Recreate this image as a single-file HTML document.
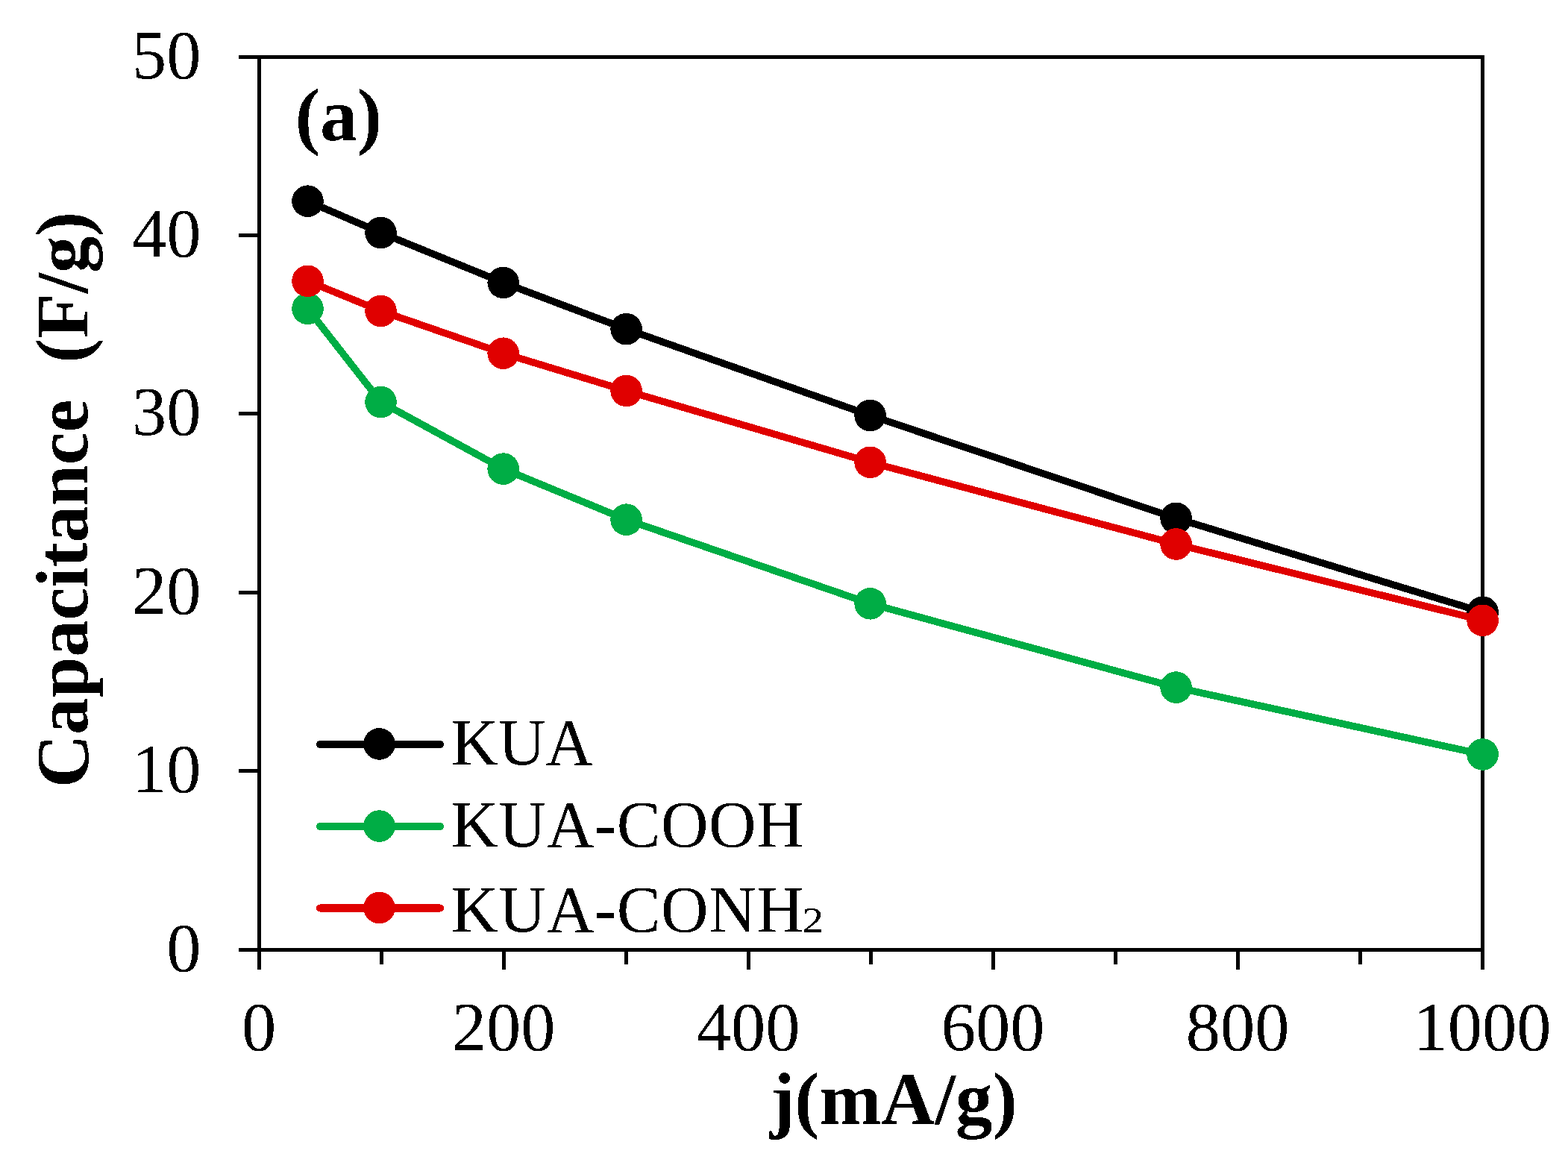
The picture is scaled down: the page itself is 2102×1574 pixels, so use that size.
<!DOCTYPE html>
<html><head><meta charset="utf-8"><title>Capacitance vs current density</title>
<style>
html,body{margin:0;padding:0;background:#fff;}
body{width:2102px;height:1574px;overflow:hidden;}
svg{display:block;}
text{font-kerning:none;}
</style></head>
<body>
<svg width="2102" height="1574" viewBox="0 0 2102 1574">
<defs><filter id="bin" x="-0.05" y="-0.05" width="1.1" height="1.1" color-interpolation-filters="sRGB"><feComponentTransfer><feFuncA type="discrete" tableValues="0 1"/></feComponentTransfer></filter></defs>
<rect width="2102" height="1574" fill="#fff"/>
<g fill="#000">
<rect x="345" y="74" width="5" height="1226"/>
<rect x="1985" y="74" width="5" height="1202"/>
<rect x="320" y="74" width="1670" height="5"/>
<rect x="320" y="1271" width="1670" height="5"/>
<rect x="320" y="1271.0" width="27" height="5"/>
<rect x="320" y="1031.0" width="27" height="5"/>
<rect x="320" y="792.0" width="27" height="5"/>
<rect x="320" y="552.0" width="27" height="5"/>
<rect x="320" y="313.0" width="27" height="5"/>
<rect x="320" y="74.0" width="27" height="5"/>
<rect x="345" y="1274" width="5" height="26"/>
<rect x="509" y="1274" width="5" height="19"/>
<rect x="673" y="1274" width="5" height="26"/>
<rect x="837" y="1274" width="5" height="19"/>
<rect x="1001" y="1274" width="5" height="26"/>
<rect x="1165" y="1274" width="5" height="19"/>
<rect x="1329" y="1274" width="5" height="26"/>
<rect x="1493" y="1274" width="5" height="19"/>
<rect x="1657" y="1274" width="5" height="26"/>
<rect x="1821" y="1274" width="5" height="19"/>
<rect x="1985" y="1274" width="5" height="26"/>
</g>
<g shape-rendering="crispEdges">
<polyline points="412.5,269.7 510.5,312.0 674.7,378.9 839.6,441.2 1166.6,557.0 1576.6,694.8 1987.6,820.7" fill="none" stroke="#000000" stroke-width="9.55" stroke-linejoin="round"/>
<circle cx="412.5" cy="269.7" r="21.3" fill="#000000"/>
<circle cx="510.5" cy="312.0" r="21.3" fill="#000000"/>
<circle cx="674.7" cy="378.9" r="21.3" fill="#000000"/>
<circle cx="839.6" cy="441.2" r="21.3" fill="#000000"/>
<circle cx="1166.6" cy="557.0" r="21.3" fill="#000000"/>
<circle cx="1576.6" cy="694.8" r="21.3" fill="#000000"/>
<circle cx="1987.6" cy="820.7" r="21.3" fill="#000000"/>
<polyline points="412.5,413.8 510.5,539.0 674.7,628.6 839.6,696.7 1166.6,809.3 1576.6,921.6 1987.6,1011.5" fill="none" stroke="#00AD45" stroke-width="9.55" stroke-linejoin="round"/>
<circle cx="412.5" cy="413.8" r="21.3" fill="#00AD45"/>
<circle cx="510.5" cy="539.0" r="21.3" fill="#00AD45"/>
<circle cx="674.7" cy="628.6" r="21.3" fill="#00AD45"/>
<circle cx="839.6" cy="696.7" r="21.3" fill="#00AD45"/>
<circle cx="1166.6" cy="809.3" r="21.3" fill="#00AD45"/>
<circle cx="1576.6" cy="921.6" r="21.3" fill="#00AD45"/>
<circle cx="1987.6" cy="1011.5" r="21.3" fill="#00AD45"/>
<polyline points="412.5,376.8 510.5,416.9 674.7,473.7 839.6,523.9 1166.6,619.8 1576.6,729.5 1987.6,831.8" fill="none" stroke="#E00000" stroke-width="9.55" stroke-linejoin="round"/>
<circle cx="412.5" cy="376.8" r="21.3" fill="#E00000"/>
<circle cx="510.5" cy="416.9" r="21.3" fill="#E00000"/>
<circle cx="674.7" cy="473.7" r="21.3" fill="#E00000"/>
<circle cx="839.6" cy="523.9" r="21.3" fill="#E00000"/>
<circle cx="1166.6" cy="619.8" r="21.3" fill="#E00000"/>
<circle cx="1576.6" cy="729.5" r="21.3" fill="#E00000"/>
<circle cx="1987.6" cy="831.8" r="21.3" fill="#E00000"/>
</g>
<g font-family="Liberation Serif, Times New Roman, serif" font-size="92.5" fill="#000" filter="url(#bin)">
<text x="269.6" y="1301.8" text-anchor="end">0</text>
<text x="269.6" y="1061.8" text-anchor="end">10</text>
<text x="269.6" y="822.8" text-anchor="end">20</text>
<text x="269.6" y="582.8" text-anchor="end">30</text>
<text x="269.6" y="343.8" text-anchor="end">40</text>
<text x="269.6" y="104.8" text-anchor="end">50</text>
<text x="347.0" y="1407.6" text-anchor="middle">0</text>
<text x="675.0" y="1407.6" text-anchor="middle">200</text>
<text x="1003.0" y="1407.6" text-anchor="middle">400</text>
<text x="1331.0" y="1407.6" text-anchor="middle">600</text>
<text x="1659.0" y="1407.6" text-anchor="middle">800</text>
<text x="1987.0" y="1407.6" text-anchor="middle">1000</text>
</g>
<g font-family="Liberation Serif, Times New Roman, serif" font-size="88" fill="#000" filter="url(#bin)">
<line x1="429" y1="997.9" x2="590" y2="997.9" stroke="#000000" stroke-width="10" stroke-linecap="round"/>
<circle cx="508.5" cy="997.4" r="21.3" fill="#000000"/>
<text x="604.5" y="1024.8">KUA</text>
<line x1="429" y1="1108.0" x2="590" y2="1108.0" stroke="#00AD45" stroke-width="10" stroke-linecap="round"/>
<circle cx="508.5" cy="1107.5" r="21.3" fill="#00AD45"/>
<text x="604.5" y="1135.0" letter-spacing="0.55">KUA-COOH</text>
<line x1="429" y1="1217.5" x2="590" y2="1217.5" stroke="#E00000" stroke-width="10" stroke-linecap="round"/>
<circle cx="508.5" cy="1217.0" r="21.3" fill="#E00000"/>
<text x="604.5" y="1249.0" letter-spacing="0.55">KUA-CONH</text>
<text transform="translate(1075.5,1249.5) scale(1.2,1)" font-size="47.5">2</text>
</g>
<g font-family="Liberation Serif, Times New Roman, serif" font-weight="bold" font-size="99.5" fill="#000" filter="url(#bin)">
<text x="1198" y="1507" text-anchor="middle">j(mA/g)</text>
<text x="395.8" y="188.2">(a)</text>
<text transform="translate(117,670) rotate(-90)" text-anchor="middle" font-size="98.6" xml:space="preserve">Capacitance  (F/g)</text>
</g>
</svg>
</body></html>
